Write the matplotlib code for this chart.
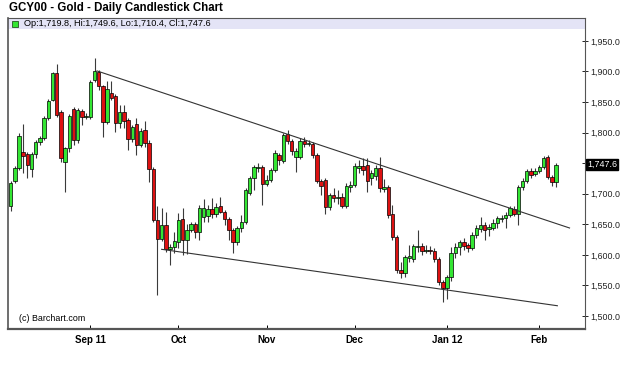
#gold daily candlestick chart (GCY00), Aug 2011 - Feb 2012
import numpy as np
import pandas as pd
import matplotlib
matplotlib.use("Agg")
import matplotlib.pyplot as plt
from matplotlib.patches import Rectangle
import matplotlib.transforms as mtransforms

plt.rcParams['font.family'] = ['Liberation Sans', 'DejaVu Sans']

#daily open / high / low / close
opens = [1680.0, 1720.9, 1742.2, 1768.4, 1765.1, 1740.6, 1765.1, 1784.7, 1791.3, 1824.0,
         1853.5, 1897.6, 1833.8, 1752.0, 1774.9, 1838.7, 1788.0, 1835.5, 1825.6, 1825.6,
         1886.2, 1899.3, 1876.4, 1817.5, 1864.9, 1860.0, 1815.8, 1833.8, 1820.7, 1789.6,
         1814.2, 1779.8, 1804.4, 1783.1, 1740.6, 1657.1, 1626.0, 1648.9, 1609.6, 1612.9,
         1621.1, 1658.7, 1624.4, 1640.7, 1650.6, 1637.5, 1662.0, 1663.6, 1675.1, 1666.9,
         1680.0, 1670.2, 1658.7, 1640.7, 1621.1, 1644.0, 1653.8, 1701.3, 1725.8, 1742.2,
         1743.8, 1716.0, 1722.5, 1738.9, 1763.5, 1753.6, 1797.8, 1786.4, 1760.2, 1760.2,
         1786.4, 1781.5, 1781.5, 1763.5, 1720.9, 1722.5, 1678.4, 1698.0, 1693.1, 1694.7,
         1680.0, 1711.1, 1714.4, 1742.2, 1745.5, 1747.1, 1725.8, 1729.1, 1742.2, 1707.8,
         1711.1, 1666.9, 1629.3, 1575.3, 1570.2, 1594.9, 1593.3, 1612.9, 1614.6, 1606.4,
         1608.0, 1606.4, 1593.3, 1555.5, 1545.8, 1563.7, 1603.1, 1612.9, 1621.1, 1616.2,
         1611.3, 1632.6, 1642.4, 1648.9, 1642.4, 1644.0, 1652.2, 1658.7, 1660.4, 1665.3,
         1675.1, 1666.9, 1711.1, 1720.9, 1737.3, 1732.4, 1737.3, 1743.8, 1760.2, 1727.5,
         1719.8]
highs = [1720.9, 1745.5, 1799.5, 1814.2, 1768.4, 1768.4, 1788.0, 1794.5, 1827.3, 1855.1,
         1899.3, 1912.4, 1837.1, 1776.6, 1830.5, 1842.0, 1840.4, 1838.7, 1832.2, 1886.2,
         1922.2, 1902.6, 1878.0, 1884.6, 1884.6, 1863.3, 1845.3, 1845.3, 1824.0, 1812.5,
         1824.0, 1807.6, 1819.1, 1788.0, 1743.8, 1680.0, 1676.7, 1670.2, 1617.8, 1637.5,
         1668.6, 1676.7, 1650.6, 1653.8, 1653.8, 1681.6, 1691.5, 1681.6, 1693.1, 1684.9,
         1694.7, 1673.5, 1662.0, 1644.0, 1647.3, 1665.3, 1709.5, 1729.1, 1747.1, 1750.4,
         1747.1, 1730.7, 1742.2, 1771.6, 1766.7, 1799.5, 1804.4, 1789.6, 1774.9, 1791.3,
         1792.9, 1788.0, 1784.7, 1766.7, 1724.2, 1725.8, 1701.3, 1709.5, 1706.2, 1701.3,
         1717.6, 1720.9, 1750.4, 1755.3, 1758.5, 1758.5, 1738.9, 1747.1, 1760.2, 1724.2,
         1714.4, 1681.6, 1632.6, 1588.4, 1599.8, 1616.2, 1617.8, 1640.7, 1619.5, 1616.2,
         1614.6, 1611.3, 1596.5, 1558.8, 1566.9, 1612.9, 1619.5, 1624.4, 1627.6, 1619.5,
         1637.5, 1648.9, 1662.0, 1653.8, 1650.6, 1658.7, 1663.6, 1665.3, 1670.2, 1680.0,
         1680.0, 1714.4, 1725.8, 1740.6, 1742.2, 1742.2, 1747.1, 1761.8, 1763.5, 1730.7,
         1749.6]
lows = [1671.8, 1717.6, 1738.9, 1734.0, 1725.8, 1727.5, 1758.5, 1779.8, 1788.0, 1820.7,
        1851.8, 1825.6, 1752.0, 1702.9, 1768.4, 1779.8, 1783.1, 1812.5, 1822.4, 1822.4,
        1882.9, 1869.8, 1792.9, 1814.2, 1853.5, 1801.1, 1807.6, 1807.6, 1771.6, 1784.7,
        1763.5, 1776.6, 1776.6, 1719.3, 1653.8, 1533.7, 1622.7, 1604.7, 1583.5, 1603.1,
        1611.3, 1599.8, 1601.5, 1637.5, 1627.6, 1624.4, 1653.8, 1653.8, 1660.4, 1662.0,
        1668.6, 1648.9, 1624.4, 1603.1, 1616.2, 1637.5, 1650.6, 1698.0, 1706.2, 1735.6,
        1681.6, 1712.7, 1719.3, 1735.6, 1747.1, 1750.4, 1781.5, 1763.5, 1735.6, 1756.9,
        1776.6, 1778.2, 1758.5, 1717.6, 1698.0, 1666.9, 1673.5, 1686.5, 1683.3, 1676.7,
        1676.7, 1702.9, 1711.1, 1734.0, 1730.7, 1702.9, 1714.4, 1722.5, 1702.9, 1702.9,
        1660.4, 1624.4, 1570.2, 1562.0, 1563.7, 1588.4, 1588.4, 1604.7, 1599.8, 1603.1,
        1601.5, 1588.4, 1550.6, 1522.9, 1528.6, 1557.2, 1594.9, 1599.8, 1608.0, 1604.7,
        1608.0, 1627.6, 1637.5, 1624.4, 1630.9, 1640.7, 1644.0, 1653.8, 1644.0, 1662.0,
        1663.6, 1648.9, 1706.2, 1717.6, 1725.8, 1729.1, 1734.0, 1740.6, 1724.2, 1712.7,
        1710.4]
closes = [1717.6, 1742.2, 1794.5, 1761.8, 1747.1, 1765.1, 1784.7, 1791.3, 1824.0, 1851.8,
          1897.6, 1828.9, 1758.5, 1774.9, 1827.3, 1788.0, 1837.1, 1825.6, 1827.3, 1882.9,
          1900.9, 1876.4, 1817.5, 1871.5, 1856.7, 1815.8, 1833.8, 1819.1, 1789.6, 1809.3,
          1779.8, 1802.7, 1783.1, 1740.6, 1657.1, 1626.0, 1648.9, 1609.6, 1612.9, 1622.7,
          1657.1, 1624.4, 1640.7, 1650.6, 1637.5, 1676.7, 1676.7, 1675.1, 1666.9, 1678.4,
          1670.2, 1658.7, 1640.7, 1621.1, 1644.0, 1653.8, 1706.2, 1725.8, 1743.8, 1743.8,
          1716.0, 1722.5, 1738.9, 1766.7, 1755.3, 1796.2, 1786.4, 1770.0, 1770.0, 1786.4,
          1781.5, 1783.1, 1763.5, 1720.9, 1712.7, 1678.4, 1698.0, 1693.1, 1694.7, 1680.0,
          1712.7, 1714.4, 1745.5, 1745.5, 1738.9, 1720.9, 1734.0, 1742.2, 1709.5, 1711.1,
          1665.3, 1629.3, 1575.3, 1570.2, 1596.5, 1598.2, 1614.6, 1614.6, 1606.4, 1608.0,
          1606.4, 1593.3, 1555.5, 1545.8, 1563.7, 1603.1, 1612.9, 1621.1, 1614.6, 1611.3,
          1632.6, 1644.0, 1648.9, 1640.7, 1645.6, 1652.2, 1660.4, 1660.4, 1665.3, 1676.7,
          1666.9, 1711.1, 1720.9, 1737.3, 1730.7, 1737.3, 1743.8, 1758.5, 1727.5, 1719.3,
          1747.6]

#trend lines drawn on the chart: (candle number, price) at each end
upper_line_x = [20.6, 133.2]
upper_line_y = [1900.9, 1644.0]
lower_line_x = [36.0, 130.3]
lower_line_y = [1609.1, 1516.8]

yticks = [1500, 1550, 1600, 1650, 1700, 1750, 1800, 1850, 1900, 1950]
month_labels = ["Sep 11", "Oct", "Nov", "Dec", "Jan 12", "Feb"]

#trading days ending on the last bar
dates = pd.bdate_range(end="2012-02-07", periods=len(closes), freq="C",
                       holidays=["2011-09-05", "2011-11-24"])
months = dates.to_period("M")
month_pos = [i for i in range(1, len(dates)) if months[i] != months[i-1]]

fig = plt.figure(figsize=(6.24, 3.66), dpi=100)
ax = fig.add_axes([0.0136, 0.101, 0.924, 0.850])

x = np.arange(len(closes))
o = np.array(opens)
c = np.array(closes)
up = c >= o

ax.vlines(x, lows, highs, color="#3a3a3a", linewidth=0.8, zorder=2)
body_h = np.maximum(np.abs(c - o), 0.9)
ax.bar(x[up], body_h[up], bottom=np.minimum(o, c)[up], width=0.82,
       color="#33e633", edgecolor="black", linewidth=0.5, zorder=3)
ax.bar(x[~up], body_h[~up], bottom=np.minimum(o, c)[~up], width=0.82,
       color="#dd1111", edgecolor="black", linewidth=0.5, zorder=3)

ax.plot(upper_line_x, upper_line_y, color="#333333", linewidth=0.8, zorder=4)
ax.plot(lower_line_x, lower_line_y, color="#333333", linewidth=0.8, zorder=4)

ax.set_xlim(-0.5, 136.9)
ax.set_ylim(1478.7, 1987.6)

ax.yaxis.tick_right()
ax.set_yticks(yticks)
ax.set_yticklabels(["" if v == 1750 else f"{v:,.1f}" for v in yticks])
ax.tick_params(axis="y", direction="inout", length=5, width=0.7, labelsize=6.4,
               pad=1, colors="#222222")
ax.set_xticks(month_pos)
ax.set_xticklabels(month_labels, fontweight="bold", fontsize=7)
ax.tick_params(axis="x", direction="in", length=3, width=0.7, pad=4)

for s in ax.spines.values():
    s.set_color("#555555")
    s.set_linewidth(0.8)
ax.spines["bottom"].set_linewidth(1.6)
ax.spines["left"].set_linewidth(1.2)

#legend band across the top of the plot
ax.add_patch(Rectangle((0, 0.965), 1, 0.035, transform=ax.transAxes,
                       facecolor="#e4e4f6", edgecolor="none", zorder=1))
ax.plot([0.012], [0.982], marker="s", markersize=4.2, color="#33e633",
        markeredgecolor="#225522", markeredgewidth=0.6, transform=ax.transAxes,
        clip_on=False, zorder=5)
ax.text(0.027, 0.982,
        f"Op:{opens[-1]:,.1f}, Hi:{highs[-1]:,.1f}, Lo:{lows[-1]:,.1f}, Cl:{closes[-1]:,.1f}",
        transform=ax.transAxes, fontsize=6.6, va="center", ha="left", zorder=5)

#last price marker on the right axis
trans = mtransforms.blended_transform_factory(ax.transAxes, ax.transData)
ax.text(1.004, closes[-1], f"{closes[-1]:,.1f}", transform=trans, fontsize=6.4,
        color="white", va="center", ha="left",
        bbox=dict(boxstyle="square,pad=0.1", facecolor="black", edgecolor="black"))

ax.text(0.018, 0.035, "(c) Barchart.com", transform=ax.transAxes, fontsize=6.4,
        va="center", ha="left")

fig.text(9/624, 1 - 8/366, "GCY00 - Gold - Daily Candlestick Chart",
         fontsize=8.3, fontweight="bold", va="center", ha="left")

fig.savefig("out.png", dpi=100)
